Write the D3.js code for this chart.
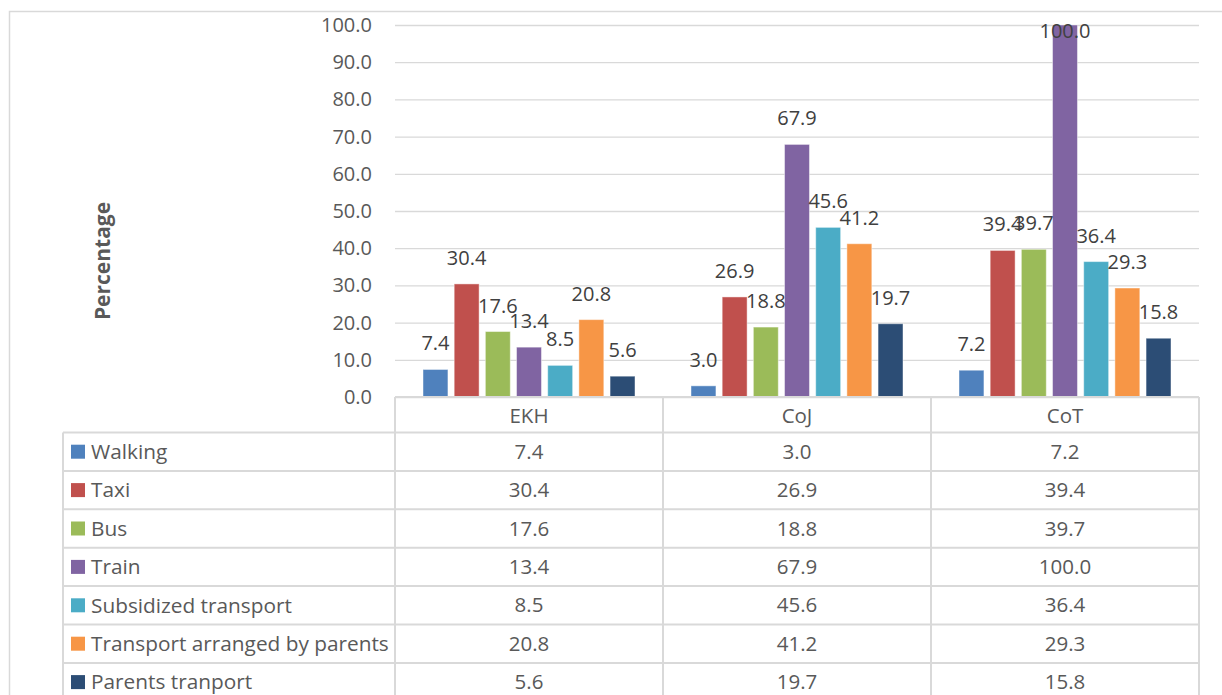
<!DOCTYPE html>
<html>
<head>
<meta charset="utf-8">
<script src="https://cdn.jsdelivr.net/npm/d3@7/dist/d3.min.js"></script>
<style>
  html, body { margin: 0; padding: 0; background: #fff; }
  svg text { font-family: "Open Sans", "Noto Sans", sans-serif; }
</style>
</head>
<body>
<svg id="chart" width="1222" height="695"></svg>
<script>
// Areas surveyed
const categories = ["EKH", "CoJ", "CoT"];
// Modes of transport
const seriesNames = ["Walking", "Taxi", "Bus", "Train", "Subsidized transport",
                     "Transport arranged by parents", "Parents tranport"];
const seriesColors = ["#4F81BD", "#C0504D", "#9BBB59", "#8064A2", "#4BACC6", "#F79646", "#2C4D75"];
// Percentage per mode, one value per area (EKH, CoJ, CoT)
const walking      = [7.4, 3.0, 7.2];
const taxi         = [30.4, 26.9, 39.4];
const bus          = [17.6, 18.8, 39.7];
const train        = [13.4, 67.9, 100.0];
const subsidized   = [8.5, 45.6, 36.4];
const arranged     = [20.8, 41.2, 29.3];
const parents      = [5.6, 19.7, 15.8];
const seriesValues = [walking, taxi, bus, train, subsidized, arranged, parents];
const yTicks = [0, 10, 20, 30, 40, 50, 60, 70, 80, 90, 100];

const svg = d3.select("#chart");
const textColor = "#595959";
const lineColor = "#D9D9D9";

const plotLeft = 395, plotRight = 1199, plotTop = 25, plotBottom = 397;
const tableLeft = 63;
const headerBottom = 432.5;
const rowH = 38.4;
const tableFont = "20.5px";

// Outer frame
svg.append("rect")
  .attr("x", 9.5).attr("y", 11.5)
  .attr("width", 1222).attr("height", 700)
  .attr("fill", "none").attr("stroke", lineColor).attr("stroke-width", 1.5);

const y = d3.scaleLinear().domain([0, 100]).range([plotBottom, plotTop]);
const x0 = d3.scaleBand().domain(categories).range([plotLeft, plotRight]);
const x1 = d3.scaleBand().domain(seriesNames)
  .range([28, x0.bandwidth() - 28]).paddingInner(0.2).paddingOuter(0);

// Gridlines
const yAxis = d3.axisLeft(y).tickValues(yTicks)
  .tickSize(-(plotRight - plotLeft)).tickPadding(23)
  .tickFormat(d3.format(".1f"));
const gy = svg.append("g").attr("transform", `translate(${plotLeft},0)`).call(yAxis);
gy.select(".domain").remove();
gy.selectAll(".tick line").attr("stroke", lineColor).attr("stroke-width", 1.3);
gy.selectAll(".tick text")
  .attr("fill", textColor).style("font-size", "20px");

// Axis title
svg.append("text")
  .attr("transform", "translate(110,261) rotate(-90)")
  .attr("text-anchor", "middle")
  .attr("fill", textColor)
  .style("font-size", "21px").style("font-weight", "bold")
  .text("Percentage");

// Bars
const groups = svg.append("g").selectAll("g")
  .data(categories).join("g")
  .attr("transform", c => `translate(${x0(c)},0)`);

groups.selectAll("rect")
  .data((c, ci) => seriesNames.map((s, si) => ({ s, si, v: seriesValues[si][ci] })))
  .join("rect")
  .attr("x", d => x1(d.s))
  .attr("y", d => y(d.v))
  .attr("width", x1.bandwidth())
  .attr("height", d => plotBottom - y(d.v))
  .attr("fill", d => seriesColors[d.si])
  .attr("stroke", "rgba(255,255,255,0.45)")
  .attr("stroke-width", 1);

// Data labels
groups.selectAll("text.lbl")
  .data((c, ci) => seriesNames.map((s, si) => ({ s, si, v: seriesValues[si][ci] })))
  .join("text")
  .attr("class", "lbl")
  .attr("x", d => x1(d.s) + x1.bandwidth() / 2)
  .attr("y", d => Math.max(y(d.v) - 26, plotTop + 6))
  .attr("dy", "0.35em")
  .attr("text-anchor", "middle")
  .attr("fill", "#404040")
  .style("font-size", "20px")
  .text(d => d3.format(".1f")(d.v));

// Data table
const table = svg.append("g");
const lineAttrs = sel => sel.attr("stroke", lineColor).attr("stroke-width", 2);

// Header row (category names)
table.append("line").attr("x1", plotLeft).attr("x2", plotRight)
  .attr("y1", plotBottom).attr("y2", plotBottom).call(lineAttrs);
// Row lines
const rowTops = d3.range(seriesNames.length + 1).map(i => headerBottom + i * rowH);
table.selectAll("line.row").data(rowTops).join("line")
  .attr("class", "row")
  .attr("x1", tableLeft).attr("x2", plotRight)
  .attr("y1", d => d).attr("y2", d => d).call(lineAttrs);
// Column lines
const colEdges = categories.map(c => x0(c)).concat([plotRight]);
table.selectAll("line.col").data(colEdges).join("line")
  .attr("class", "col")
  .attr("x1", d => d).attr("x2", d => d)
  .attr("y1", plotBottom).attr("y2", 700).call(lineAttrs);
table.append("line").attr("x1", tableLeft).attr("x2", tableLeft)
  .attr("y1", headerBottom).attr("y2", 700).call(lineAttrs);

// Category names
table.selectAll("text.cat").data(categories).join("text")
  .attr("class", "cat")
  .attr("x", c => x0(c) + x0.bandwidth() / 2)
  .attr("y", (plotBottom + headerBottom) / 2 + 1)
  .attr("dy", "0.35em").attr("text-anchor", "middle")
  .attr("fill", textColor).style("font-size", tableFont)
  .text(c => c);

// Legend keys and names
const rows = table.selectAll("g.srow").data(seriesNames).join("g")
  .attr("class", "srow")
  .attr("transform", (s, i) => `translate(0,${headerBottom + i * rowH + rowH / 2})`);
rows.append("rect")
  .attr("x", 71).attr("y", -7).attr("width", 14).attr("height", 14)
  .attr("fill", (s, i) => seriesColors[i]);
rows.append("text")
  .attr("x", 91).attr("dy", "0.35em")
  .attr("fill", textColor).style("font-size", "20.8px")
  .text(s => s);
// Values
rows.selectAll("text.val")
  .data((s, i) => categories.map((c, ci) => ({ c, v: seriesValues[i][ci] })))
  .join("text")
  .attr("class", "val")
  .attr("x", d => x0(d.c) + x0.bandwidth() / 2)
  .attr("dy", "0.35em").attr("text-anchor", "middle")
  .attr("fill", textColor).style("font-size", tableFont)
  .text(d => d3.format(".1f")(d.v));
</script>
</body>
</html>
